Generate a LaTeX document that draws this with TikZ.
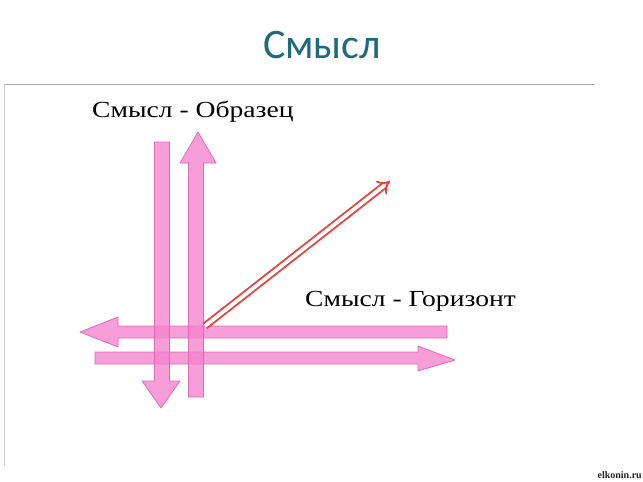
\documentclass[tikz,border=0pt]{standalone}
\usepackage{fontspec}
\setmainfont{Liberation Serif}
\newfontfamily\titlefont{Carlito}
\newfontfamily\labelfont[FakeStretch=1.2]{Liberation Serif}
\usetikzlibrary{arrows.meta}
\definecolor{titleteal}{HTML}{1D6B7C}
\definecolor{pinkfill}{HTML}{F585CF}
\definecolor{pinkedge}{HTML}{E060B4}
\definecolor{redarrow}{HTML}{E2453C}
\definecolor{rulegray}{HTML}{A8A8A8}
\tikzset{
  marker/.style={fill=pinkfill, draw=pinkedge, line width=0.8pt, fill opacity=0.8, draw opacity=0.9, line join=round},
  label/.style={font=\labelfont\fontsize{23}{27}\selectfont, anchor=base west, inner sep=0pt},
}
\begin{document}
\begin{tikzpicture}[x=1pt,y=-1pt]
\useasboundingbox[fill=white] (0,0) rectangle (643,482);
% title
\node[font=\titlefont\fontsize{42}{48}\selectfont, text=titleteal, anchor=base] (title) at (322,58) {Смысл};
% frame lines
\draw[rulegray, line width=0.9pt] (5,84) -- (595,84);
\draw[rulegray!60, line width=0.8pt] (4,84) -- (4,466);
% labels
\node[label] (obr) at (92,117) {Смысл - Образец};
\node[label] (gor) at (305,306) {Смысл - Горизонт};
% lower horizontal (arrow right)
\draw[marker] (95,352) -- (418,352) -- (418,346) -- (455,360) -- (418,371) -- (418,364) -- (95,364) -- cycle;
% upper horizontal (arrow left)
\draw[marker] (447,326) -- (118,326) -- (118,317) -- (80,332) -- (118,347) -- (118,338) -- (447,338) -- cycle;
% left vertical (arrow down)
\draw[marker] (154.5,142) -- (169.5,142) -- (169.5,381) -- (180,381) -- (161,408) -- (142,381) -- (154.5,381) -- cycle;
% right vertical (arrow up)
\draw[marker] (188.5,397) -- (203.5,397) -- (203.5,163) -- (216,163) -- (198,132) -- (180,163) -- (188.5,163) -- cycle;
% red double arrow
\coordinate (rs) at (205,326);
\coordinate (re) at (390,181);
\draw[redarrow, line width=1.9pt, double=white, double distance=3.8pt, -{Implies[scale=1.5]}] (rs) -- (re);
% footer
\node[font=\bfseries\fontsize{10}{11}\selectfont, text=black!85, anchor=east, inner sep=0pt] (site) at (642,475) {elkonin.ru};
\end{tikzpicture}
\end{document}
